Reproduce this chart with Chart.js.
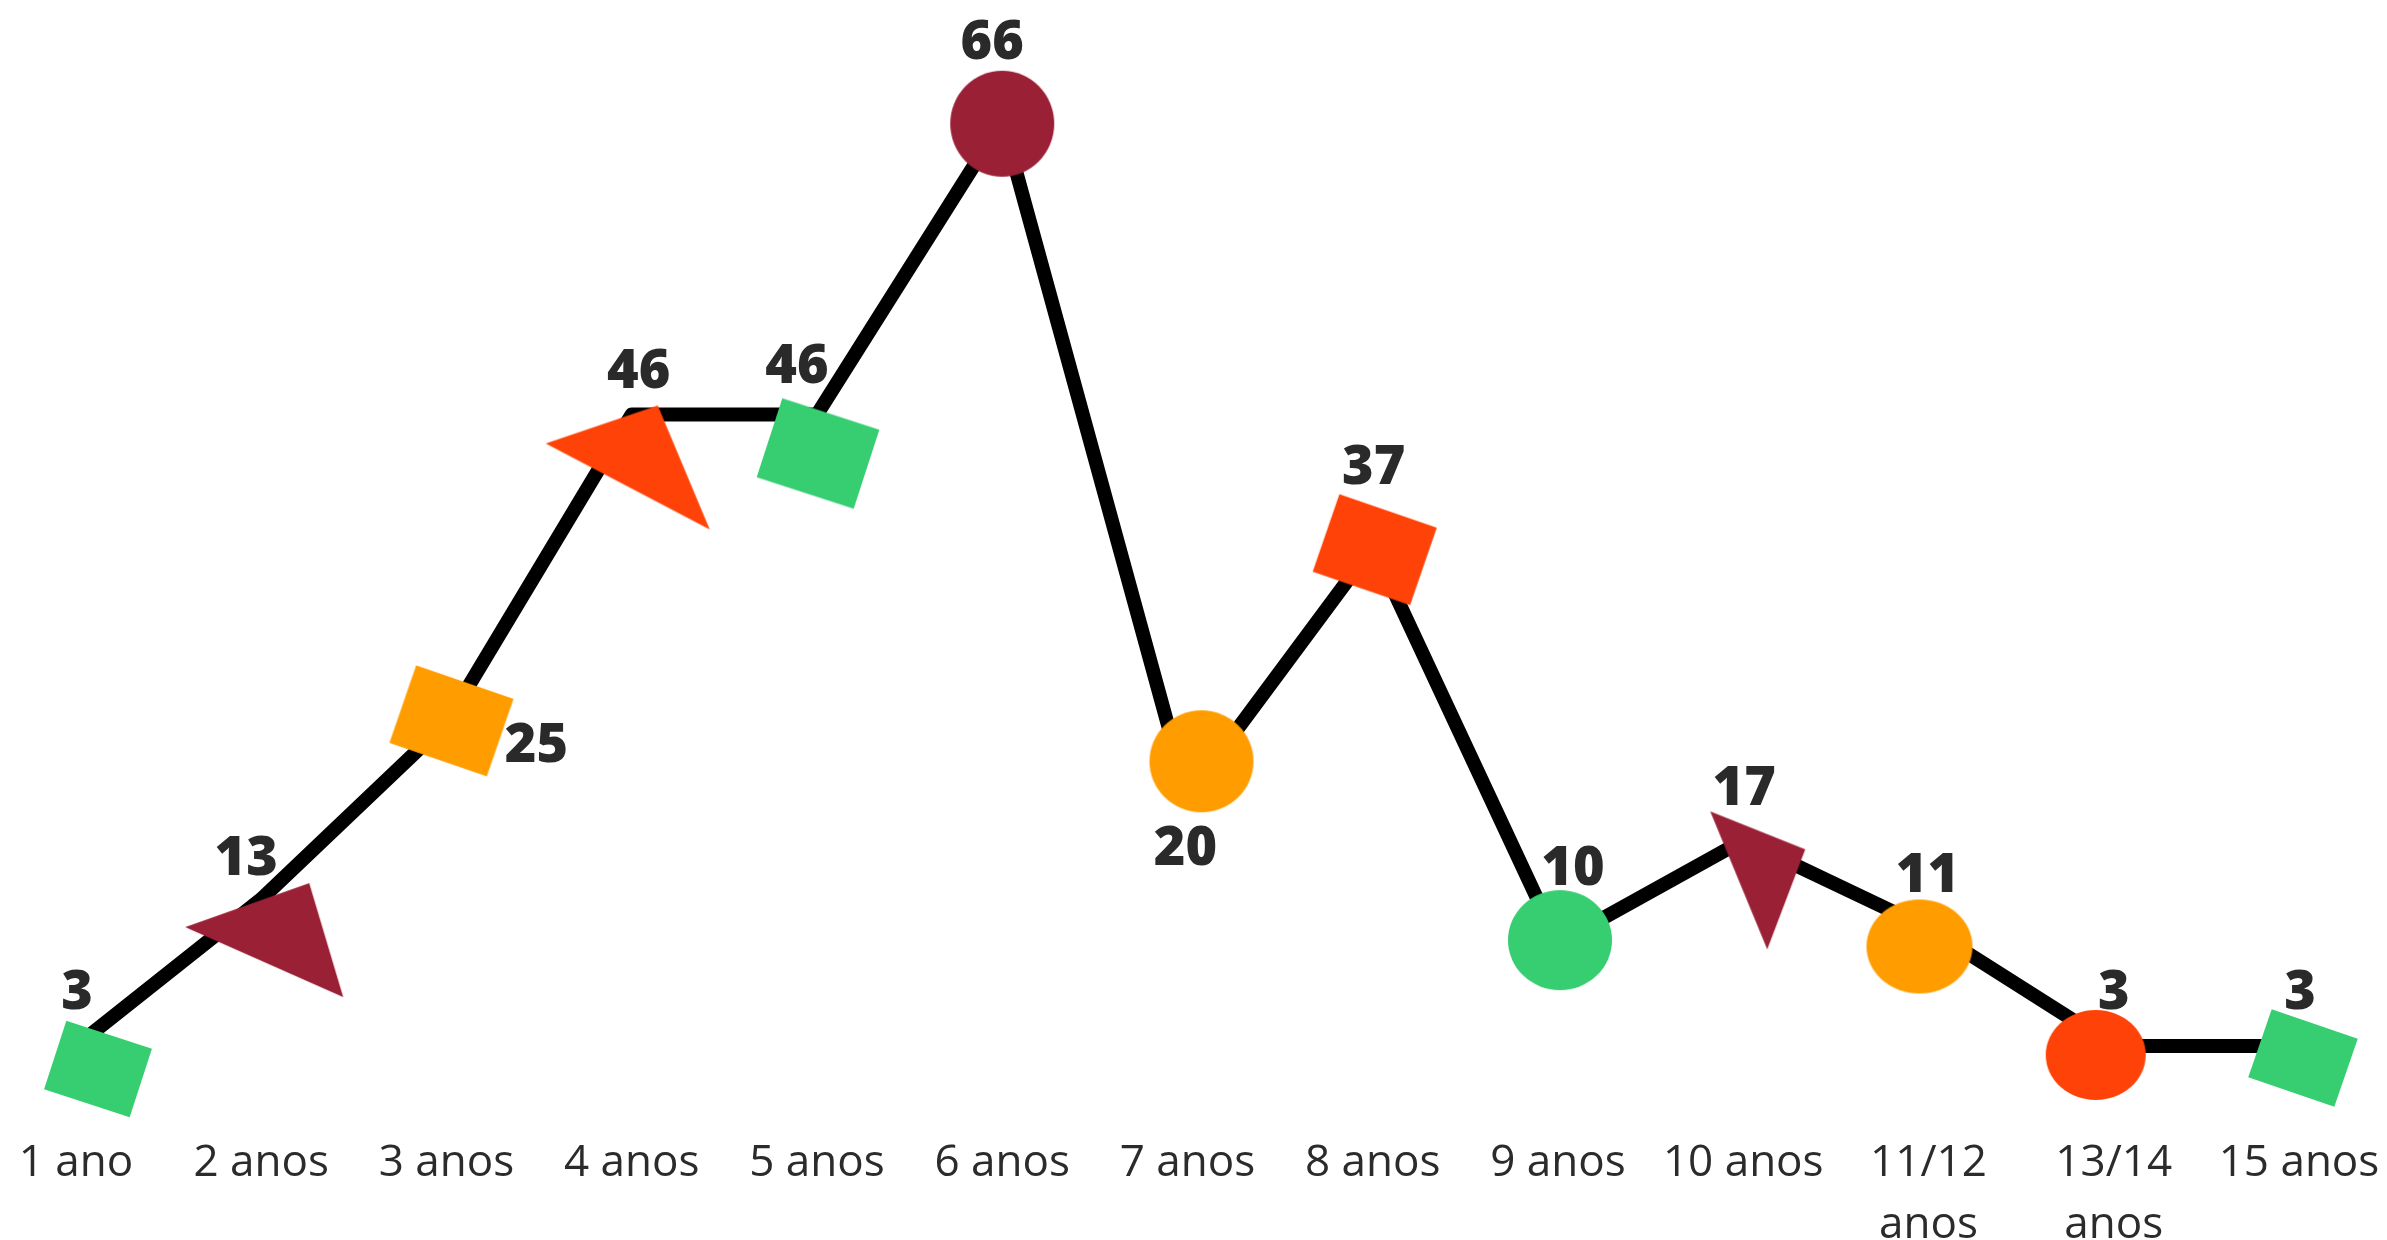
<!DOCTYPE html>
<html lang="pt">
<head>
<meta charset="utf-8">
<title>Idades</title>
<script src="https://cdn.jsdelivr.net/npm/chart.js@4.4.1/dist/chart.umd.min.js"></script>
<style>
  html, body { margin: 0; padding: 0; background: #ffffff; }
  #wrap { width: 2387px; height: 1240px; position: relative; }
</style>
</head>
<body>
<div id="wrap"><canvas id="idadeChart"></canvas></div>
<script>
// Dados do gráfico
const categorias = ['1 ano', '2 anos', '3 anos', '4 anos', '5 anos', '6 anos', '7 anos',
  '8 anos', '9 anos', '10 anos', ['11/12', 'anos'], ['13/14', 'anos'], '15 anos'];
const valores = [3, 13, 25, 46, 46, 66, 20, 37, 10, 17, 11, 3, 3];

// Cores dos marcadores
const VERDE = '#36CE71';
const VINHO = '#9A2036';
const LARANJA = '#FF9C00';
const VERMELHO = '#FF4308';

// Formas decorativas de cada ponto (deslocamento em px a partir do ponto)
const estilosMarcador = [
  { forma: 'rect', cor: VERDE, dx: 22, dy: 23, w: 90, h: 72, ang: 18 },
  { forma: 'tri', cor: VINHO, pts: [[-76, 28], [48, -16], [82, 98]] },
  { forma: 'rect', cor: LARANJA, dx: 5, dy: -2, w: 103, h: 82, ang: 19 },
  { forma: 'tri', cor: VERMELHO, pts: [[-86, 29], [26, -9], [78, 115]] },
  { forma: 'rect', cor: VERDE, dx: 1, dy: 39, w: 102, h: 83, ang: 18 },
  { forma: 'elipse', cor: VINHO, dx: 0, dy: 3, rx: 52, ry: 53 },
  { forma: 'elipse', cor: LARANJA, dx: 14, dy: -35, rx: 52, ry: 51 },
  { forma: 'rect', cor: VERMELHO, dx: 2, dy: 3, w: 103, h: 82, ang: 19 },
  { forma: 'elipse', cor: VERDE, dx: 2, dy: -3, rx: 52, ry: 50 },
  { forma: 'tri', cor: VINHO, pts: [[-33, -29], [62, 9], [24, 109]] },
  { forma: 'elipse', cor: LARANJA, dx: -9, dy: 18, rx: 53, ry: 47 },
  { forma: 'elipse', cor: VERMELHO, dx: -18, dy: 9, rx: 50, ry: 45 },
  { forma: 'rect', cor: VERDE, dx: 4, dy: 12, w: 91, h: 72, ang: 19 }
];

// Posição dos rótulos de valor em relação ao ponto
const posRotulos = [[1, -56], [-15, -43], [90, 20], [7, -45], [-20, -50], [-10, -81],
  [-2, 50], [1, -82], [15, -77], [1, -54], [-1, -55], [0, -56], [1, -56]];

// Desenha cada marcador num canvas próprio (usado como pointStyle)
function criaMarcador(e) {
  const c = document.createElement('canvas');
  c.width = 320;
  c.height = 320;
  const g = c.getContext('2d');
  g.fillStyle = e.cor;
  g.translate(160, 160);
  if (e.forma === 'rect') {
    g.translate(e.dx, e.dy);
    g.rotate(e.ang * Math.PI / 180);
    g.fillRect(-e.w / 2, -e.h / 2, e.w, e.h);
  } else if (e.forma === 'elipse') {
    g.beginPath();
    g.ellipse(e.dx, e.dy, e.rx, e.ry, 0, 0, Math.PI * 2);
    g.fill();
  } else {
    g.beginPath();
    g.moveTo(e.pts[0][0], e.pts[0][1]);
    g.lineTo(e.pts[1][0], e.pts[1][1]);
    g.lineTo(e.pts[2][0], e.pts[2][1]);
    g.closePath();
    g.fill();
  }
  return c;
}
const marcadores = estilosMarcador.map(criaMarcador);

// Plugin simples para escrever os valores
const rotulosPlugin = {
  id: 'rotulosValor',
  afterDatasetsDraw(chart) {
    const meta = chart.getDatasetMeta(0);
    const ctx = chart.ctx;
    ctx.save();
    ctx.font = '800 54px "Open Sans"';
    ctx.fillStyle = '#2a2a2a';
    ctx.textAlign = 'center';
    ctx.textBaseline = 'alphabetic';
    meta.data.forEach((pt, i) => {
      const off = posRotulos[i];
      ctx.fillText(String(valores[i]), pt.x + off[0], pt.y + off[1] + 19);
    });
    ctx.restore();
  }
};

new Chart(document.getElementById('idadeChart'), {
  type: 'line',
  data: {
    labels: categorias,
    datasets: [{
      data: valores,
      borderColor: '#000000',
      borderWidth: 14,
      borderJoinStyle: 'round',
      tension: 0,
      fill: false,
      clip: false,
      pointStyle: (c) => marcadores[c.dataIndex],
      pointRadius: 40,
      pointHoverRadius: 40
    }]
  },
  options: {
    responsive: true,
    maintainAspectRatio: false,
    animation: false,
    events: [],
    layout: { autoPadding: false, padding: { left: 76, right: 88, top: 62, bottom: 0 } },
    plugins: {
      legend: { display: false },
      tooltip: { enabled: false }
    },
    scales: {
      x: {
        offset: false,
        grid: { display: false, drawTicks: false },
        border: { display: false },
        ticks: {
          padding: 42,
          autoSkip: false,
          maxRotation: 0,
          color: '#2b2b2b',
          font: { family: '"Open Sans"', size: 44, weight: '400', lineHeight: 1.41 }
        },
        afterFit: (scale) => {
          // altura fixa do eixo e sem recuo extra nas laterais
          scale.height = 150;
          scale.paddingLeft = 0;
          scale.paddingRight = 0;
        }
      },
      y: {
        display: false,
        min: 0,
        max: 70
      }
    }
  },
  plugins: [rotulosPlugin]
});
</script>
</body>
</html>
